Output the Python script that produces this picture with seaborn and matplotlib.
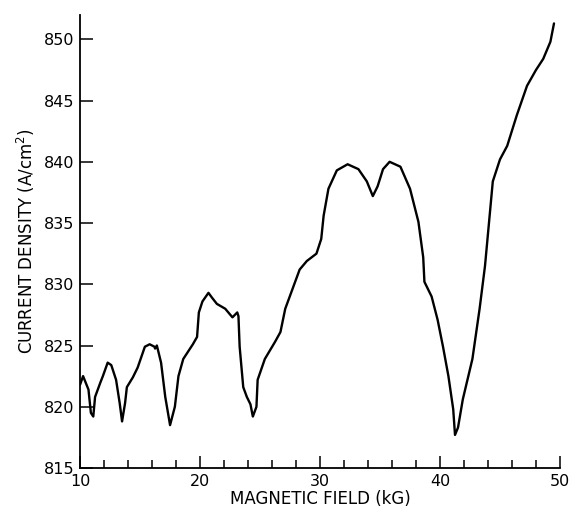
import pandas as pd
import matplotlib.pyplot as plt
from matplotlib.ticker import MultipleLocator
import seaborn as sns

# values
field_kg = [10.0, 10.25, 10.7, 10.9, 11.1, 11.25, 11.7, 11.9, 12.3, 12.6, 13.0, 13.3, 13.5,
            13.75, 13.9, 14.4, 14.8, 15.4, 15.8, 16.2, 16.25, 16.4, 16.75, 17.1, 17.5,
            17.9, 18.2, 18.6, 19.0, 19.4, 19.75, 19.9, 20.2, 20.7, 21.0, 21.4, 22.1, 22.7,
            23.1, 23.2, 23.3, 23.6, 23.9, 24.2, 24.4, 24.7, 24.8, 25.4, 26.25, 26.7, 27.1,
            27.7, 28.3, 28.9, 29.7, 30.1, 30.3, 30.7, 31.4, 32.3, 33.2, 33.9, 34.4, 34.8,
            35.25, 35.8, 36.7, 37.5, 38.2, 38.6, 38.7, 39.3, 39.8, 40.25, 40.7, 41.1,
            41.25, 41.5, 41.9, 42.7, 43.3, 43.75, 44.4, 45.0, 45.6, 46.4, 47.25, 48.0,
            48.6, 49.2, 49.5]
current_density = [821.8, 822.5, 821.4, 819.5, 819.2, 820.8, 822.0, 822.5, 823.6, 823.4,
                   822.2, 820.3, 818.8, 820.3, 821.6, 822.4, 823.2, 824.9, 825.1, 824.9,
                   824.75, 825.0, 823.6, 820.8, 818.5, 820.0, 822.5, 823.9, 824.5, 825.1,
                   825.7, 827.7, 828.6, 829.3, 828.9, 828.4, 828.0, 827.3, 827.7, 827.4,
                   824.9, 821.6, 820.8, 820.2, 819.2, 820.0, 822.2, 823.9, 825.3, 826.1,
                   828.0, 829.6, 831.2, 831.9, 832.5, 833.7, 835.6, 837.8, 839.3, 839.8,
                   839.4, 838.4, 837.2, 838.0, 839.4, 840.0, 839.6, 837.8, 835.1, 832.2,
                   830.2, 829.0, 827.1, 824.9, 822.5, 819.8, 817.7, 818.3, 820.6, 823.9,
                   828.0, 831.5, 838.4, 840.2, 841.3, 843.8, 846.2, 847.5, 848.4, 849.8,
                   851.3]

df = pd.DataFrame({"field": field_kg, "current": current_density})

sns.set_style("ticks", {"axes.edgecolor": "black", "xtick.color": "black",
                        "ytick.color": "black", "text.color": "black",
                        "axes.labelcolor": "black"})
plt.rcParams["font.family"] = ["DejaVu Sans"]

fig = plt.figure(figsize=(5.72, 5.12), dpi=100)
ax = fig.add_axes([0.14, 0.086, 0.839, 0.885])

sns.lineplot(data=df, x="field", y="current", color="black", linewidth=1.7, ax=ax)

ax.set_xlim(10, 50)
ax.set_ylim(815, 852)
ax.xaxis.set_major_locator(MultipleLocator(10))
ax.xaxis.set_minor_locator(MultipleLocator(2))
ax.yaxis.set_major_locator(MultipleLocator(5))
ax.tick_params(axis="both", which="major", direction="in", length=9, width=1.1,
               labelsize=11.5, pad=4)
ax.tick_params(axis="x", which="minor", direction="in", length=6, width=1.1)
sns.despine(ax=ax)
for side in ["left", "bottom"]:
    ax.spines[side].set_linewidth(1.3)

ax.set_xlabel("MAGNETIC FIELD (kG)", fontsize=12, labelpad=1)
ax.set_ylabel("CURRENT DENSITY (A/cm$^2$)", fontsize=12, labelpad=5)

fig.savefig("out.png", dpi=100)
